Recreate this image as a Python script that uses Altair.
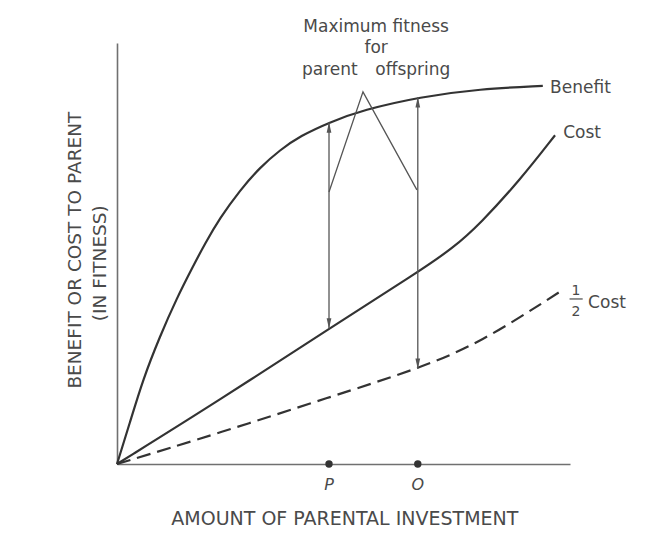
import altair as alt
import pandas as pd

# ---- values (axis units 0-10 on both axes) ----
benefit_x = [0, 0.29, 0.57, 0.95, 1.32, 1.68, 1.94, 2.27, 2.72, 3.16, 3.60, 4.04, 4.70, 5.43, 6.69, 8.01, 9.40]
benefit_y = [0, 1.00, 2.00, 3.04, 3.94, 4.70, 5.23, 5.84, 6.51, 7.05, 7.46, 7.79, 8.12, 8.41, 8.72, 8.91, 8.98]

cost_x = [0, 2.27, 4.70, 6.62, 7.42, 8.01, 8.90, 9.67]
cost_y = [0, 1.52, 3.23, 4.54, 5.13, 5.70, 6.75, 7.81]

half_cost_x = [0, 2.27, 4.70, 6.64, 8.01, 9.76]
half_cost_y = [0, 0.74, 1.59, 2.26, 2.87, 4.08]

invest_names = ["P", "O"]
invest_x = [4.68, 6.64]
arrow_top = [8.11, 8.71]
arrow_bottom = [3.22, 2.26]

peak_x = [4.68, 5.43, 6.62]
peak_y = [6.46, 8.84, 6.51]

annot_text = ["Maximum fitness", "for", "parent", "offspring"]
annot_x = [5.72, 5.72, 4.70, 6.53]
annot_y = [10.26, 9.76, 9.24, 9.24]

curve_label_text = ["Benefit", "Cost", "Cost"]
curve_label_x = [9.56, 9.85, 10.40]
curve_label_y = [8.81, 7.74, 3.71]

fraction_text = ["1", "2"]
fraction_x = [10.13, 10.13]
fraction_y = [4.01, 3.52]
fraction_bar = {"x": 9.99, "x2": 10.28, "y": 3.92}

x_title = "AMOUNT OF PARENTAL INVESTMENT"
y_title = ["BENEFIT OR COST TO PARENT", "(IN FITNESS)"]

# ---- styling ----
INK = "#333333"
TEXT = "#4a4a4a"
FONT = "DejaVu Sans"

XS = alt.Scale(domain=[0, 10], nice=False, zero=False)
YS = alt.Scale(domain=[0, 10], nice=False, zero=False)
AX = alt.Axis(labels=False, ticks=False, grid=False, domainColor="#707070", domainWidth=1.6, title=None)


def X(f):
    return alt.X(f"{f}:Q", scale=XS, axis=AX, title=None)


def Y(f):
    return alt.Y(f"{f}:Q", scale=YS, axis=AX, title=None)


benefit_df = pd.DataFrame({"x": benefit_x, "y": benefit_y})
cost_df = pd.DataFrame({"x": cost_x, "y": cost_y})
half_df = pd.DataFrame({"x": half_cost_x, "y": half_cost_y})
invest_df = pd.DataFrame({"name": invest_names, "x": invest_x, "top": arrow_top, "bottom": arrow_bottom,
                          "zero": [0, 0], "lab": [-0.62, -0.62]})
peak_df = pd.DataFrame({"x": peak_x, "y": peak_y})
annot_df = pd.DataFrame({"t": annot_text, "x": annot_x, "y": annot_y})
clab_df = pd.DataFrame({"t": curve_label_text, "x": curve_label_x, "y": curve_label_y})
frac_df = pd.DataFrame({"t": fraction_text, "x": fraction_x, "y": fraction_y})
bar_df = pd.DataFrame([fraction_bar])
xt_df = pd.DataFrame({"t": [x_title], "x": [5.03], "y": [-1.45]})
yt_df = pd.DataFrame({"t": y_title, "x": [-0.93, -0.375], "y": [5.08, 4.77]})

benefit = alt.Chart(benefit_df).mark_line(color=INK, strokeWidth=2.2, interpolate="basis").encode(x=X("x"), y=Y("y"))
cost = alt.Chart(cost_df).mark_line(color=INK, strokeWidth=2.2, interpolate="basis").encode(x=X("x"), y=Y("y"))
half = alt.Chart(half_df).mark_line(color=INK, strokeWidth=2.2, strokeDash=[14, 7],
                                    interpolate="basis").encode(x=X("x"), y=Y("y"))

arrows = alt.Chart(invest_df).mark_rule(color="#555555", strokeWidth=1.3).encode(
    x=X("x"), y=Y("top"), y2="bottom:Q")
head_up = alt.Chart(invest_df).mark_point(shape="M0,-1L-0.45,1L0.45,1Z", size=110, filled=True, opacity=1,
                                          strokeWidth=0, color="#555555", yOffset=5).encode(x=X("x"), y=Y("top"))
head_down = alt.Chart(invest_df).mark_point(shape="M0,1L-0.45,-1L0.45,-1Z", size=110, filled=True, opacity=1,
                                            strokeWidth=0, color="#555555", yOffset=-5).encode(x=X("x"), y=Y("bottom"))
peak = alt.Chart(peak_df).mark_line(color="#555555", strokeWidth=1.3).encode(x=X("x"), y=Y("y"))

dots = alt.Chart(invest_df).mark_point(shape="circle", size=55, filled=True, opacity=1, color=INK).encode(
    x=X("x"), y=Y("zero"))
dot_labels = alt.Chart(invest_df).mark_text(font=FONT, fontSize=16, fontStyle="italic", color=TEXT,
                                            align="center", baseline="alphabetic").encode(
    x=X("x"), y=Y("lab"), text="name:N")

annot = alt.Chart(annot_df).mark_text(font=FONT, fontSize=17, color=TEXT, align="center",
                                      baseline="alphabetic").encode(x=X("x"), y=Y("y"), text="t:N")
clab = alt.Chart(clab_df).mark_text(font=FONT, fontSize=17, color=TEXT, align="left",
                                    baseline="alphabetic").encode(x=X("x"), y=Y("y"), text="t:N")
frac = alt.Chart(frac_df).mark_text(font=FONT, fontSize=14, color=TEXT, align="center",
                                    baseline="alphabetic").encode(x=X("x"), y=Y("y"), text="t:N")
bar = alt.Chart(bar_df).mark_rule(color=TEXT, strokeWidth=1.2).encode(x=X("x"), x2="x2:Q", y=Y("y"))

xt = alt.Chart(xt_df).mark_text(font=FONT, fontSize=19, color=TEXT, align="center",
                                baseline="alphabetic").encode(x=X("x"), y=Y("y"), text="t:N")
yt = alt.Chart(yt_df).mark_text(font=FONT, fontSize=18.5, color=TEXT, align="center", baseline="middle",
                                angle=270).encode(x=X("x"), y=Y("y"), text="t:N")

chart = alt.layer(
    benefit, cost, half, arrows, head_up, head_down, peak, dots, dot_labels, annot, clab, frac, bar, xt, yt
).properties(
    width=453, height=421,
    autosize=alt.AutoSizeParams(type="none"),
    padding={"left": 109, "top": 35, "right": 71, "bottom": 72},
    background="white",
).configure_view(stroke=None)

chart.save("out.html", embed_options={"renderer": "svg", "actions": False})
